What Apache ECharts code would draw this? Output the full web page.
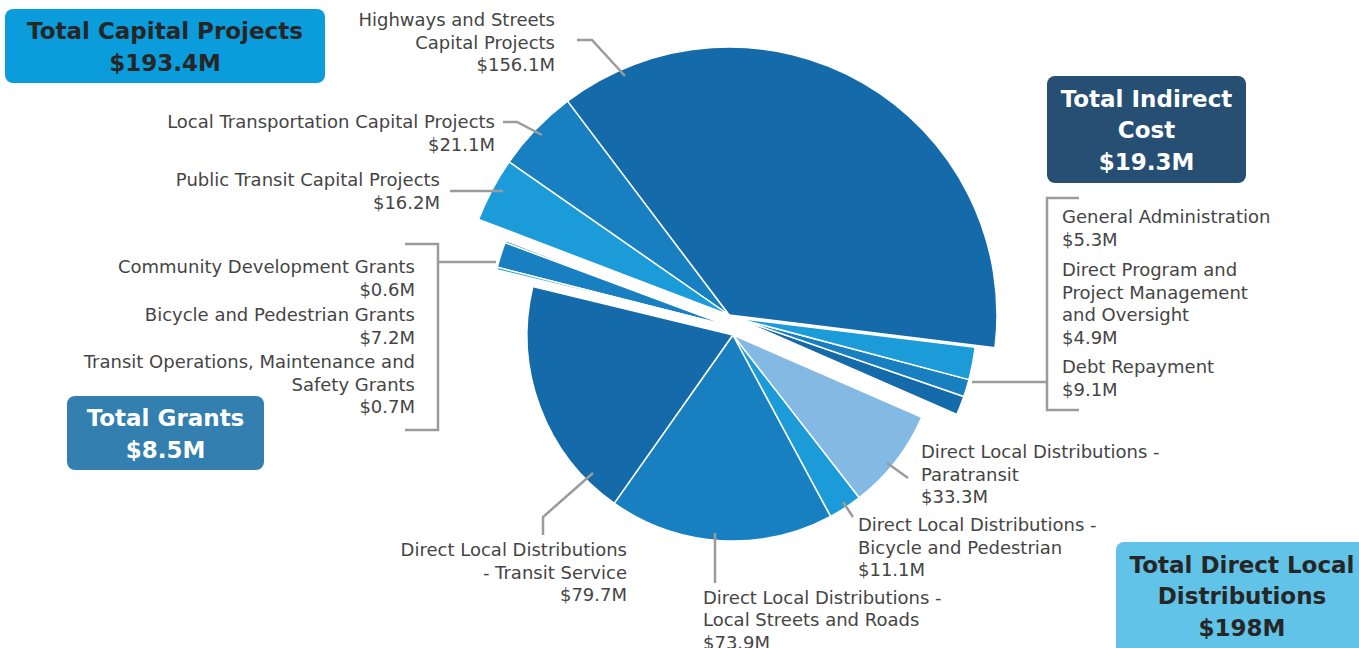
<!DOCTYPE html>
<html>
<head>
<meta charset="utf-8">
<script src="https://cdn.jsdelivr.net/npm/echarts@6/dist/echarts.min.js"></script>
<style>
  html, body { margin: 0; padding: 0; background: #fff; }
  #chart { width: 1359px; height: 648px; }
</style>
</head>
<body>
<div id="chart"></div>
<script>
// slices, listed counter-clockwise starting just below 3 o'clock
const capitalNames = ['Highways and Streets\nCapital Projects', 'Local Transportation Capital Projects', 'Public Transit Capital Projects'];
const capitalValues = [156.1, 21.1, 16.2];

const grantNames = ['Community Development Grants', 'Bicycle and Pedestrian Grants', 'Transit Operations, Maintenance and\nSafety Grants'];
const grantValues = [0.6, 7.2, 0.7];

const dldNames = ['Direct Local Distributions\n- Transit Service', 'Direct Local Distributions -\nLocal Streets and Roads', 'Direct Local Distributions -\nBicycle and Pedestrian', 'Direct Local Distributions -\nParatransit'];
const dldValues = [79.7, 73.9, 11.1, 33.3];

const indirectNames = ['General Administration', 'Direct Program and\nProject Management\nand Oversight', 'Debt Repayment'];
const indirectValues = [5.3, 4.9, 9.1];

// group totals shown in the boxes
const groupTitles = ['Total Capital Projects', 'Total Grants', 'Total Direct Local\nDistributions', 'Total Indirect\nCost'];
const groupTotals = ['$193.4M', '$8.5M', '$198M', '$19.3M'];

const money = v => '$' + v.toFixed(1) + 'M';

const dark = '#156AAA', mid = '#1880C1', light = '#1B9BD8', pale = '#84B9E3';
const lineGray = '#9B9B9B';
const textGray = '#454545';
const font = '"DejaVu Sans"';

const grandTotal = [capitalValues, grantValues, dldValues, indirectValues].flat().reduce((a, b) => a + b, 0);
const startAt = -7;
let cum = 0;

function makePie(names, values, colors, center, radius, labelPos) {
  const sum = values.reduce((a, b) => a + b, 0);
  const start = startAt + 360 * cum / grandTotal;
  cum += sum;
  const end = startAt + 360 * cum / grandTotal;
  return {
    type: 'pie',
    clockwise: false,
    startAngle: start,
    endAngle: end,
    center: center,
    radius: [0, radius],
    silent: true,
    animation: false,
    avoidLabelOverlap: false,
    itemStyle: { borderColor: '#fff', borderWidth: 1.5 },
    label: {
      show: true,
      position: 'inside',
      formatter: p => p.name + '\n' + money(p.value),
      color: textGray,
      fontFamily: font,
      fontSize: 18,
      lineHeight: 22.5
    },
    labelLine: { show: false },
    labelLayout: p => {
      const q = labelPos[p.dataIndex];
      return { x: q[0], y: q[1], align: q[2], verticalAlign: 'top' };
    },
    data: values.map((v, i) => ({ name: names[i], value: v, itemStyle: { color: colors[i] } }))
  };
}

// rounded box with the group total; textY is the middle of the text block
function box(x, y, w, h, textY, fill, txtColor, text) {
  return {
    type: 'group',
    z: 20,
    children: [
      { type: 'rect', shape: { x: x, y: y, width: w, height: h, r: 8 }, style: { fill: fill } },
      {
        type: 'text',
        x: x + w / 2,
        y: textY,
        style: {
          text: text,
          align: 'center',
          verticalAlign: 'middle',
          fill: txtColor,
          font: 'bold 23px ' + font,
          lineHeight: 31.5
        }
      }
    ]
  };
}

function line(points) {
  return {
    type: 'polyline',
    z: 20,
    shape: { points: points },
    style: { stroke: lineGray, lineWidth: 2.5, fill: null }
  };
}

const option = {
  backgroundColor: '#fff',
  series: [
    makePie(capitalNames, capitalValues, [dark, mid, light], [729, 315], 268,
      [[555, 8.5, 'right'], [495, 110.5, 'right'], [440, 168.5, 'right']]),
    makePie(grantNames, grantValues, [dark, mid, light], [729, 326], 239,
      [[415, 255.5, 'right'], [415, 303.5, 'right'], [415, 350.5, 'right']]),
    makePie(dldNames, dldValues, [dark, mid, light, pale], [733, 335], 206,
      [[627, 538.5, 'right'], [703, 586, 'left'], [858, 513.5, 'left'], [921, 440.5, 'left']]),
    makePie(indirectNames, indirectValues, [dark, mid, light], [736, 318], 241,
      [[1062, 205.5, 'left'], [1062, 258.5, 'left'], [1062, 355.5, 'left']])
  ],
  graphic: [
    box(5, 9, 320, 74, 47, '#0A9CDB', '#262626', groupTitles[0] + '\n' + groupTotals[0]),
    box(67, 396, 197, 74, 434, '#337FAF', '#ffffff', groupTitles[1] + '\n' + groupTotals[1]),
    box(1116, 542, 252, 120, 596, '#62C3E8', '#262626', groupTitles[2] + '\n' + groupTotals[2]),
    box(1047, 76, 199, 107, 130, '#264F73', '#ffffff', groupTitles[3] + '\n' + groupTotals[3]),
    line([[625, 76], [592, 40], [577, 40]]),
    line([[542, 135], [517, 122], [503, 122]]),
    line([[503, 191], [450, 191]]),
    line([[405, 244], [438, 244], [438, 430], [405, 430]]),
    line([[438, 262], [496, 262]]),
    line([[1079, 198], [1047, 198], [1047, 410], [1079, 410]]),
    line([[1047, 382], [972, 382]]),
    line([[593, 473], [543, 517], [543, 535]]),
    line([[715, 533], [715, 583]]),
    line([[843, 502], [853, 517]]),
    line([[887, 463], [908, 478]])
  ]
};

const chart = echarts.init(document.getElementById('chart'), null, { renderer: 'svg' });
chart.setOption(option);
</script>
</body>
</html>
